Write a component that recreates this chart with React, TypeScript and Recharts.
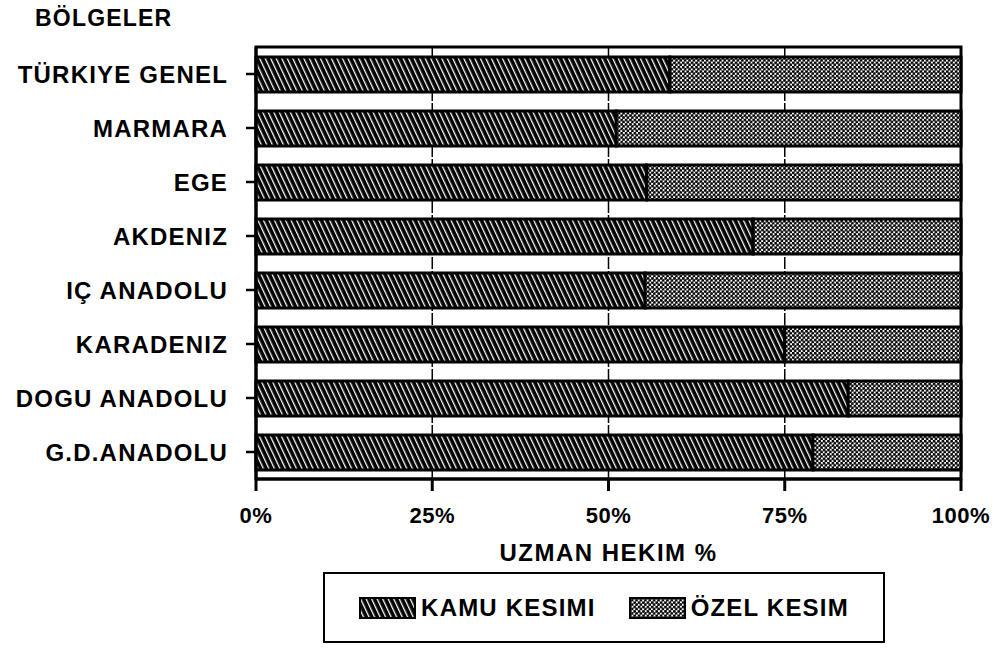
import React from 'react';
import { BarChart, Bar, XAxis, YAxis, CartesianGrid, ReferenceArea, Legend, Label } from 'recharts';

const categories = ['TÜRKIYE GENEL', 'MARMARA', 'EGE', 'AKDENIZ', 'IÇ ANADOLU', 'KARADENIZ', 'DOGU ANADOLU', 'G.D.ANADOLU'];
const kamuValues = [58.7, 51.1, 55.4, 70.5, 55.2, 75.0, 84.0, 79.0];
const ozelValues = [41.3, 48.9, 44.6, 29.5, 44.8, 25.0, 16.0, 21.0];
const xTicks = [0, 25, 50, 75, 100];
const seriesNames = ['KAMU KESIMI', 'ÖZEL KESIM'];

const data = categories.map((name, i) => ({ name, kamu: kamuValues[i], ozel: ozelValues[i] }));

const FONT = '"Liberation Sans", Arial, Helvetica, sans-serif';
const textStyle = { fontFamily: FONT, fontWeight: 700, fill: '#000', letterSpacing: 1.2 };

const Patterns = () => (
  <svg width={0} height={0} style={{ position: 'absolute' }}>
    <defs>
      <pattern id="hatch" patternUnits="userSpaceOnUse" width={5} height={10} patternTransform="rotate(-25)">
        <rect x={0} y={0} width={5} height={10} fill="#000" />
        <rect x={0} y={0} width={1.3} height={10} fill="#fff" />
      </pattern>
      <pattern id="dots" patternUnits="userSpaceOnUse" width={4.4} height={4.4}>
        <rect x={0} y={0} width={4.4} height={4.4} fill="#fff" />
        <circle cx={1.1} cy={1.1} r={1.5} fill="#000" />
        <circle cx={3.3} cy={3.3} r={1.5} fill="#000" />
      </pattern>
    </defs>
  </svg>
);

const LegendContent = () => (
  <div
    style={{
      boxSizing: 'border-box',
      width: 562,
      height: 71,
      border: '2px solid #000',
      display: 'flex',
      alignItems: 'center',
      justifyContent: 'center',
      gap: 33,
      fontFamily: FONT,
      fontWeight: 700,
      fontSize: 24,
      letterSpacing: 1.2,
      color: '#000',
    }}
  >
    {seriesNames.map((n, i) => (
      <div key={n} style={{ display: 'flex', alignItems: 'center' }}>
        <svg width={57} height={22} style={{ marginRight: 5 }}>
          <rect x={1} y={1} width={55} height={20} fill={i === 0 ? 'url(#hatch)' : 'url(#dots)'} stroke="#000" strokeWidth={2} />
        </svg>
        <span>{n}</span>
      </div>
    ))}
  </div>
);

export default function App() {
  return (
    <div style={{ position: 'absolute', left: 0, top: 0, width: 997, height: 653, background: '#fff' }}>
      <Patterns />
      <div
        style={{
          position: 'absolute',
          left: 35,
          top: 5,
          fontFamily: FONT,
          fontWeight: 700,
          fontSize: 23,
          letterSpacing: 1.2,
          color: '#000',
        }}
      >
        BÖLGELER
      </div>
      <BarChart
        width={997}
        height={653}
        data={data}
        layout="vertical"
        margin={{ top: 47, right: 36, left: 0, bottom: 92 }}
        barCategoryGap={0}
      >
        <CartesianGrid horizontal={false} vertical stroke="#000" strokeWidth={1.5} strokeDasharray="12 2" />
        <XAxis
          type="number"
          domain={[0, 100]}
          ticks={xTicks}
          tickFormatter={(v) => `${v}%`}
          axisLine={{ stroke: '#000', strokeWidth: 3 }}
          tickLine={{ stroke: '#000', strokeWidth: 3 }}
          tickSize={12}
          tickMargin={16}
          height={82}
          tick={{ ...textStyle, fontSize: 22, letterSpacing: 0.5 }}
          interval={0}
        >
          <Label value="UZMAN HEKIM %" position="insideBottom" offset={0} style={{ ...textStyle, fontSize: 24, letterSpacing: 1.5 }} />
        </XAxis>
        <YAxis
          type="category"
          dataKey="name"
          width={256}
          axisLine={{ stroke: '#000', strokeWidth: 3 }}
          tickLine={{ stroke: '#000', strokeWidth: 2.5 }}
          tickSize={10}
          tickMargin={18}
          tick={{ ...textStyle, fontSize: 24 }}
          interval={0}
        />
        <Bar dataKey="kamu" stackId="a" fill="url(#hatch)" stroke="#000" strokeWidth={3} barSize={35} isAnimationActive={false} />
        <Bar dataKey="ozel" stackId="a" fill="url(#dots)" stroke="#000" strokeWidth={3} barSize={35} isAnimationActive={false} />
        <ReferenceArea x1={0} x2={100} fill="none" stroke="#000" strokeWidth={3} ifOverflow="visible" />
        <Legend
          layout="horizontal"
          verticalAlign="middle"
          align="center"
          content={<LegendContent />}
          wrapperStyle={{ position: 'absolute', top: 572, left: 323, width: 562, height: 71 }}
        />
      </BarChart>
    </div>
  );
}
